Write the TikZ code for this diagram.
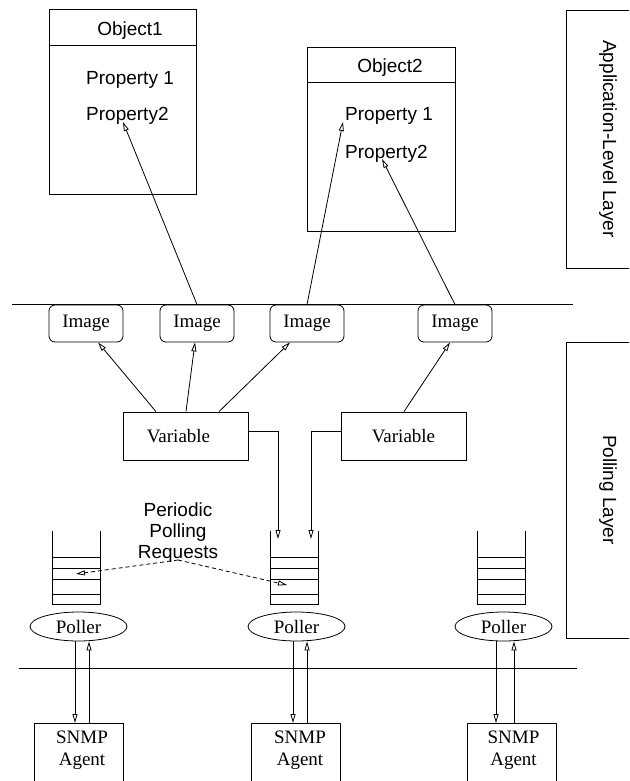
\documentclass[tikz,border=0pt]{standalone}
\usepackage{fontspec}
\setmainfont{Liberation Serif}
\setsansfont{Liberation Sans}
\usetikzlibrary{arrows.meta,shapes.geometric,calc}
\begin{document}
\begin{tikzpicture}[x=1pt,y=-1pt,
  lw/.style={line width=0.8pt},
  tfont/.style={font=\fontsize{19}{22}\selectfont},
  sfont/.style={font=\sffamily\fontsize{19}{21}\selectfont},
  arr/.style={lw,-{Triangle[open,length=9pt,width=5pt]}},
  darr/.style={arr,dash pattern=on 4pt off 3pt},
  objbox/.style={draw,lw,inner sep=0pt},
  imgbox/.style={draw,lw,rounded corners=6pt,minimum width=74pt,minimum height=37pt,inner sep=0pt,tfont},
  varbox/.style={draw,lw,minimum width=125pt,minimum height=48pt,inner sep=0pt,tfont},
  pollbox/.style={draw,lw,ellipse,minimum width=97pt,minimum height=29pt,inner sep=0pt,tfont},
  agentbox/.style={draw,lw,minimum width=89pt,minimum height=100pt,inner sep=0pt,anchor=north},
  layerbox/.style={draw,lw,minimum width=84pt,inner sep=0pt,sfont},
]
\useasboundingbox (0,0) rectangle (629,781);
\clip (0,0) rectangle (629,781);

% Layer boxes
\node[layerbox,minimum height=258pt] (app) at (608,139) {\rotatebox{-90}{Application-Level Layer}};
\node[layerbox,minimum height=296pt] (poll) at (608,490) {\rotatebox{-90}{Polling Layer}};

% Objects
\node[objbox,minimum width=147pt,minimum height=185pt] (obj1) at (122.5,101.5) {};
\draw[lw] ($(obj1.north west)+(0,37)$) -- ($(obj1.north east)+(0,37)$);
\node[sfont,anchor=base,inner sep=0pt] (o1t) at (130,36) {Object1};
\node[sfont,anchor=base west,inner sep=0pt] (o1p1) at (86,85) {Property 1};
\node[sfont,anchor=base west,inner sep=0pt] (o1p2) at (86,121) {Property2};

\node[objbox,minimum width=148pt,minimum height=184pt] (obj2) at (381,139) {};
\draw[lw] ($(obj2.north west)+(0,36)$) -- ($(obj2.north east)+(0,36)$);
\node[sfont,anchor=base,inner sep=0pt] (o2t) at (390,73) {Object2};
\node[sfont,anchor=base west,inner sep=0pt] (o2p1) at (345,121) {Property 1};
\node[sfont,anchor=base west,inner sep=0pt] (o2p2) at (345,158) {Property2};

% Separator lines
\coordinate (l1a) at (12,304);
\coordinate (l1b) at (573,304);
\draw[lw] (l1a) -- (l1b);
\coordinate (l2a) at (19,668);
\coordinate (l2b) at (577,668);
\draw[lw] (l2a) -- (l2b);

% Images
\node[imgbox] (img1) at (86,323.5) {Image};
\node[imgbox] (img2) at (197,323.5) {Image};
\node[imgbox] (img3) at (307,323.5) {Image};
\node[imgbox] (img4) at (455,323.5) {Image};

% Image -> properties
\coordinate (t1) at ($(o1p2.base west)+(37,1)$);
\coordinate (t2) at ($(o2p1.base west)+(-2,1)$);
\coordinate (t3) at ($(o2p2.base west)+(37,1)$);
\draw[arr] (img2.north) -- (t1);
\draw[arr] (img3.north) -- (t2);
\draw[arr] (img4.north) -- (t3);

% Variables
\node[varbox] (var1) at (185.5,436) {\hspace*{-14pt}Variable};
\node[varbox] (var2) at (403.5,436) {Variable};
\draw[arr] ($(var1.north)+(-29.5,0)$) -- ($(img1.south)+(12,0)$);
\draw[arr] ($(var1.north)+(0.5,0)$) -- ($(img2.south)+(-2,0)$);
\draw[arr] ($(var1.north)+(33.5,0)$) -- ($(img3.south)+(-17,0)$);
\draw[arr] ($(var2.north)+(0.5,0)$) -- ($(img4.south)+(-5,0)$);

% Stacks
\foreach \x/\n in {52.3/1,270/2,477.7/3}{
  \coordinate (stk\n) at (\x,531);
  \draw[lw] (\x,531) -- (\x,604) -- (\x+48,604) -- (\x+48,531);
  \foreach \y in {557,568,579,594}{
    \draw[lw] (\x,\y) -- (\x+48,\y);
  }
}

% Variables -> queue 2
\coordinate (q2a) at (278,539);
\coordinate (q2b) at (311,539);
\draw[arr] ($(var1.east)+(0,-5)$) -| (q2a);
\draw[arr] ($(var2.west)+(0,-5)$) -| (q2b);

% Periodic polling requests
\node[sfont,align=center,anchor=north,inner sep=0pt] (req) at (178,503) {Periodic\\Polling\\Requests};
\coordinate (rq) at (178,560);
\coordinate (rqa) at (76,574);
\coordinate (rqb) at (287,585);
\draw[darr] (rq) -- (rqa);
\draw[darr] (rq) -- (rqb);

% Pollers
\node[pollbox] (pol1) at (78.5,626.5) {Poller};
\node[pollbox] (pol2) at (296.5,626.5) {Poller};
\node[pollbox] (pol3) at (503.5,626.5) {Poller};

% SNMP agents
\node[agentbox] (snmp1) at (78.5,723) {};
\node[agentbox] (snmp2) at (296,723) {};
\node[agentbox] (snmp3) at (511.5,723) {};
\node[tfont,align=center,anchor=north,inner sep=0pt] (a1) at ($(snmp1.north)+(3.5,7.5)$) {SNMP\\Agent};
\node[tfont,align=center,anchor=north,inner sep=0pt] (a2) at ($(snmp2.north)+(4,7.5)$) {SNMP\\Agent};
\node[tfont,align=center,anchor=north,inner sep=0pt] (a3) at ($(snmp3.north)+(2,7.5)$) {SNMP\\Agent};

% Poller <-> agent
\draw[arr] ($(pol1.south)+(-3.5,0)$) -- ($(snmp1.north)+(-3.5,0)$);
\draw[arr] ($(snmp1.north)+(10.5,0)$) -- ($(pol1.south)+(10.5,0)$);
\draw[arr] ($(pol2.south)+(-3.5,0)$) -- ($(snmp2.north)+(-3,0)$);
\draw[arr] ($(snmp2.north)+(11,0)$) -- ($(pol2.south)+(10.5,0)$);
\draw[arr] ($(pol3.south)+(-7.5,0)$) -- ($(snmp3.north)+(-15.5,0)$);
\draw[arr] ($(snmp3.north)+(2.5,0)$) -- ($(pol3.south)+(10.5,0)$);
\end{tikzpicture}
\end{document}
